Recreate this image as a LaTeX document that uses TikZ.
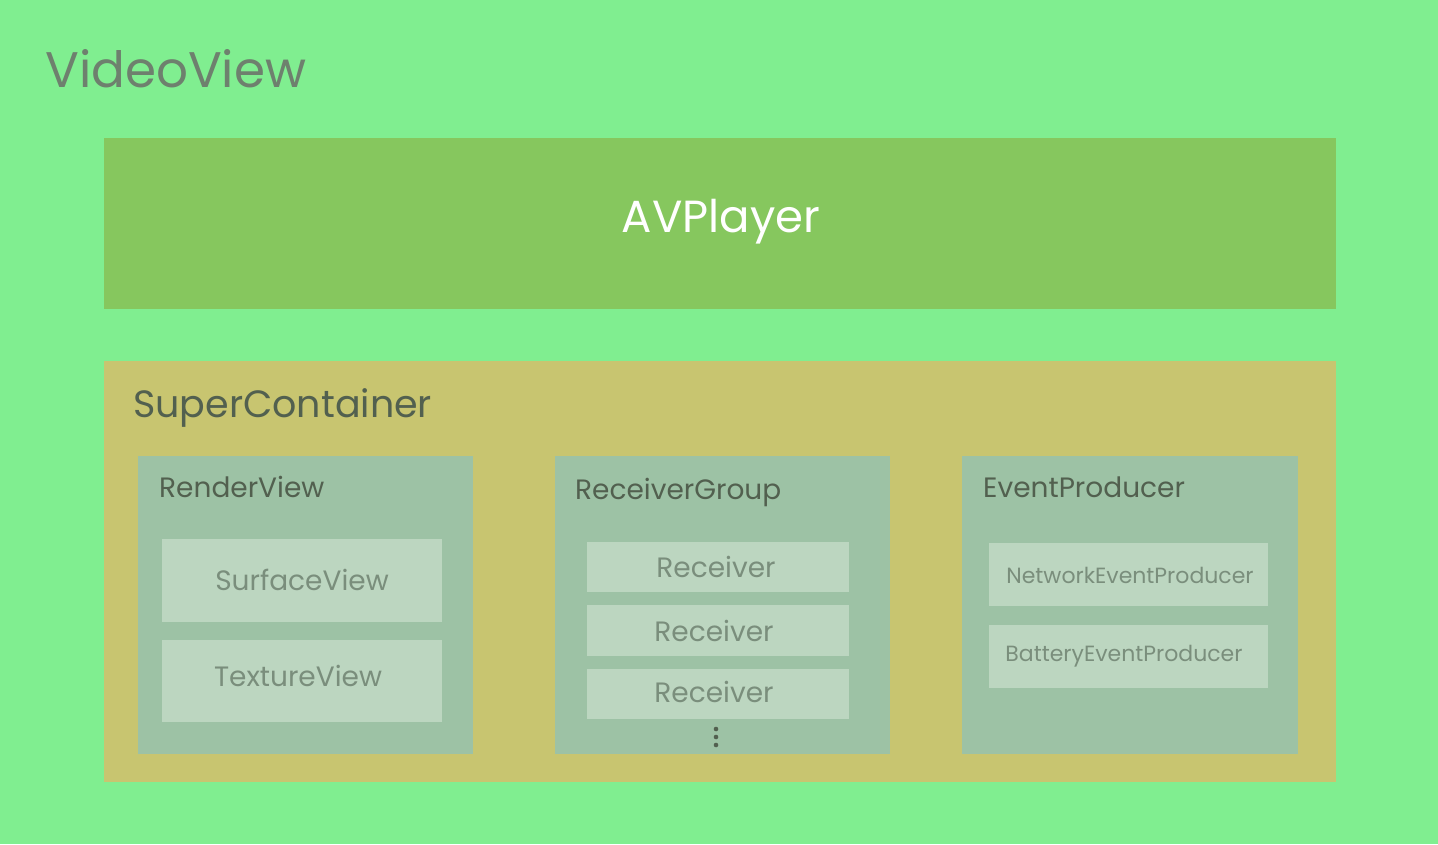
\documentclass[tikz,border=0pt]{standalone}
\usepackage{fontspec}
\setmainfont{Poppins}
\definecolor{bgc}{HTML}{80EE90}
\definecolor{avc}{HTML}{86C75E}
\definecolor{scc}{HTML}{C8C570}
\definecolor{grpc}{HTML}{9DC2A5}
\definecolor{itemc}{HTML}{BCD6C0}
\definecolor{titlec}{HTML}{6E806E}
\definecolor{darkt}{HTML}{52604F}
\definecolor{itemt}{HTML}{7A8E7C}
\tikzset{
  box/.style={inner sep=0pt, outer sep=0pt},
  lbl/.style={inner sep=0pt, anchor=base west},
  itemtxt/.style={inner sep=0pt, text=itemt},
}
\begin{document}
\begin{tikzpicture}[x=1pt,y=-1pt]
\fill[bgc] (0,0) rectangle (1438,844);
\useasboundingbox (0,0) rectangle (1438,844);
\node[lbl, text=titlec, font=\fontsize{50}{50}\selectfont] (vv) at (45,87) {VideoView};
% AVPlayer
\fill[avc] (104,138) rectangle (1336,309);
\node[box, text=white, font=\fontsize{45}{45}\selectfont] (av) at (721,222) {AVPlayer};
% SuperContainer
\fill[scc] (104,361) rectangle (1336,782);
\node[lbl, text=darkt, font=\fontsize{38}{38}\selectfont] (sc) at (133,417) {SuperContainer};
% groups
\fill[grpc] (138,456) rectangle (473,754);
\fill[grpc] (555,456) rectangle (890,754);
\fill[grpc] (962,456) rectangle (1298,754);
\node[lbl, text=darkt, font=\fontsize{28}{28}\selectfont] (rv) at (159,497) {RenderView};
\node[lbl, text=darkt, font=\fontsize{28}{28}\selectfont] (rg) at (575,499) {ReceiverGroup};
\node[lbl, text=darkt, font=\fontsize{28}{28}\selectfont] (ep) at (983,497) {EventProducer};
% items
\fill[itemc] (162,539) rectangle (442,622);
\fill[itemc] (162,640) rectangle (442,722);
\node[itemtxt, font=\fontsize{28}{28}\selectfont] (sv) at (302,580) {SurfaceView};
\node[itemtxt, font=\fontsize{28}{28}\selectfont] (tv) at (298,676) {TextureView};
\fill[itemc] (587,542) rectangle (849,592);
\fill[itemc] (587,605) rectangle (849,656);
\fill[itemc] (587,669) rectangle (849,719);
\node[itemtxt, font=\fontsize{28}{28}\selectfont] (r1) at (716,567) {Receiver};
\node[itemtxt, font=\fontsize{28}{28}\selectfont] (r2) at (714,631) {Receiver};
\node[itemtxt, font=\fontsize{28}{28}\selectfont] (r3) at (714,692) {Receiver};
\foreach \yy in {729,737,745} \fill[darkt] (716,\yy) circle (2.3);
\fill[itemc] (989,543) rectangle (1268,606);
\fill[itemc] (989,625) rectangle (1268,688);
\node[itemtxt, font=\fontsize{22}{22}\selectfont] (np) at (1130,575) {NetworkEventProducer};
\node[itemtxt, font=\fontsize{22}{22}\selectfont] (bp) at (1124,656) {BatteryEventProducer};
\end{tikzpicture}
\end{document}
